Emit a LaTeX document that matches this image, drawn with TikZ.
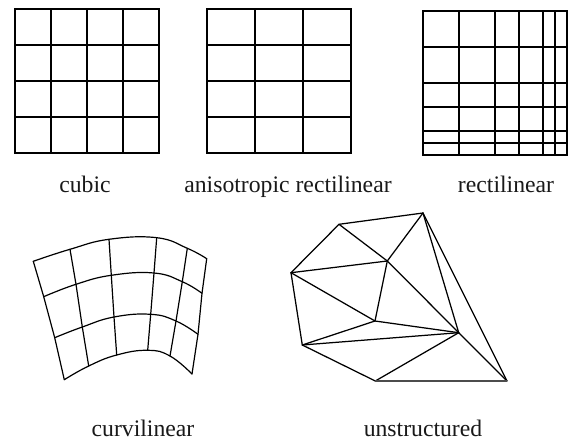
\documentclass[tikz,border=0pt]{standalone}
\usepackage{fontspec}
\setmainfont{Liberation Serif}
\begin{document}
\begin{tikzpicture}[x=1pt,y=-1pt,
  gridline/.style={line width=1.9pt,line cap=rect,black},
  thinline/.style={line width=1.2pt,black,line cap=round,line join=round},
  meshline/.style={line width=1.25pt,black,line cap=round},
  cap label/.style={inner sep=0pt,anchor=base,font=\fontsize{23.7}{26}\selectfont,text=black!90}]
\useasboundingbox (0,0) rectangle (568,441);
% cubic
\foreach \v in {15,51,87,123,159} \draw[gridline] (\v,9) -- (\v,153);
\foreach \v in {9,45,81,117,153} \draw[gridline] (15,\v) -- (159,\v);
% anisotropic rectilinear
\foreach \v in {207,255,303,351} \draw[gridline] (\v,9) -- (\v,153);
\foreach \v in {9,45,81,117,153} \draw[gridline] (207,\v) -- (351,\v);
% rectilinear
\foreach \v in {423,459,495,519,543,555,567} \draw[gridline] (\v,11) -- (\v,155);
\foreach \v in {11,47,83,107,131,143,155} \draw[gridline] (423,\v) -- (567,\v);
% curvilinear
\foreach \n/\a/\b in {a1/33.3/261.3,a2/70/249.3,a3/109/239.3,a4/156.7/237.7,a5/187.3/248.3,a6/206.7/258.7,
 b1/43.7/296.7,b2/76/284.3,b3/111.3/275.3,b4/154/273,b5/182.3/281.7,b6/202/293.3,
 c1/54.7/337.7,c2/82.3/327,c3/114/317,c4/150.7/314.3,c5/176/321,c6/198/334.3,
 d1/64.3/379.7,d2/88.7/366,d3/116.7/355,d4/147.7/350.3,d5/170/356,d6/192/374}
  \coordinate (\n) at (\a,\b);
\foreach \r in {a,b,c,d}
  \draw[thinline] plot[smooth,tension=0.75] coordinates {(\r1) (\r2) (\r3) (\r4) (\r5) (\r6)};
\foreach \k in {1,...,6}
  \draw[thinline] (a\k) -- (b\k) -- (c\k) -- (d\k);
% unstructured
\foreach \n/\a/\b in {A/339/224.3,B/423/213,C/291/272.7,D/387.3/261,E/375/321,F/302.3/345,G/458.7/332.7,H/375.3/381,I/507/381}
  \coordinate (\n) at (\a,\b);
\foreach \p/\q in {A/B,A/C,A/D,B/D,C/D,D/E,C/E,C/F,E/F,F/G,E/G,D/G,B/G,B/I,G/I,F/H,H/G}
  \draw[meshline] (\p) -- (\q);
\draw[line width=1.6pt,black!70] (H) -- (I);
% labels
\node[cap label] (l1) at (85,193) {cubic};
\node[cap label] (l2) at (288,193) {anisotropic rectilinear};
\node[cap label] (l3) at (506,193) {rectilinear};
\node[cap label] (l4) at (143,436) {curvilinear};
\node[cap label] (l5) at (423,436) {unstructured};
\end{tikzpicture}
\end{document}
